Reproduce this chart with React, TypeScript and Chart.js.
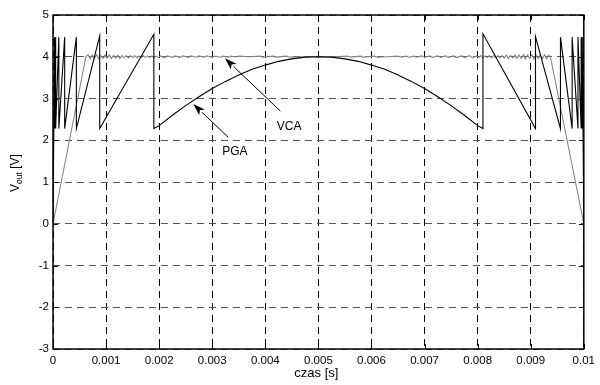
import React, { useEffect, useRef } from "react";
import { Chart, registerables } from "chart.js";

Chart.register(...registerables);

const FONT = "'Liberation Sans', Arial, Helvetica, sans-serif";

// axis ticks
const xTicks = [0, 0.001, 0.002, 0.003, 0.004, 0.005, 0.006, 0.007, 0.008, 0.009, 0.01];
const yTicks = [-3, -2, -1, 0, 1, 2, 3, 4, 5];

// PGA output (black)
const pgaTime = [
  0, 0.00003, 0.00003, 0.00005, 0.00005, 0.00011, 0.00011, 0.00022, 0.00022, 0.00044, 0.00044,
  0.00088, 0.00088, 0.0019, 0.0019,
  0.002, 0.00225, 0.0025, 0.00275, 0.003, 0.00325, 0.0035, 0.00375, 0.004, 0.00425, 0.0045, 0.00475,
  0.005, 0.00525, 0.0055, 0.00575, 0.006, 0.00625, 0.0065, 0.00675, 0.007, 0.00725, 0.0075, 0.00775, 0.008,
  0.0081, 0.0081, 0.00909, 0.00909, 0.00956, 0.00956, 0.00978, 0.00978, 0.00989, 0.00989,
  0.00995, 0.00995, 0.00997, 0.00997, 0.01,
];
const pgaValue = [
  0, 4.47, 2.28, 4.47, 2.28, 4.47, 2.28, 4.47, 2.28, 4.47, 2.28,
  4.5, 2.28, 4.54, 2.28,
  2.35, 2.6, 2.83, 3.04, 3.24, 3.41, 3.56, 3.7, 3.8, 3.89, 3.95, 3.99,
  4.0, 3.99, 3.95, 3.89, 3.8, 3.7, 3.56, 3.41, 3.24, 3.04, 2.83, 2.6, 2.35,
  2.28, 4.55, 2.28, 4.48, 2.28, 4.47, 2.28, 4.47, 2.28, 4.47,
  2.28, 4.47, 2.28, 4.47, 0,
];

// VCA output (gray), time in microseconds
const vcaTimeUs = [
  0, 620,
  660, 700, 740, 780, 820, 860, 900, 940, 980, 1020,
  1060, 1100, 1140, 1180, 1220, 1260, 1300, 1340, 1380, 1420,
  1460, 1500, 1540, 1580, 1620, 1660, 1700, 1740, 1780, 1820,
  1860, 1900, 1940, 1980, 2020,
  2100, 2150, 2250, 2300, 2400, 2450, 2550, 2600, 2700, 2750,
  2850, 2900, 3000, 3050, 3150, 3200, 3300, 3350, 3450, 3500,
  3700, 3900, 3950, 4150, 4200, 4400, 4450, 4700, 5300, 5550, 5600, 5800, 5850, 6050, 6100, 6300,
  6500, 6550, 6650, 6700, 6800, 6850, 6950, 7000, 7100, 7150,
  7250, 7300, 7400, 7450, 7550, 7600, 7700, 7750, 7850, 7900,
  7980, 8020, 8060, 8100, 8140, 8180, 8220, 8260, 8300, 8340,
  8380, 8420, 8460, 8500, 8540, 8580, 8620, 8660, 8700, 8740,
  8780, 8820, 8860, 8900, 8940, 8980, 9020, 9060, 9100, 9140,
  9180, 9220, 9260, 9300, 9340,
  9370, 10000,
];
const vcaValue = [
  0, 4.0,
  4.05, 3.95, 4.04, 3.96, 4.05, 3.95, 4.03, 3.96, 4.04, 3.97,
  4.04, 3.96, 4.03, 3.97, 4.04, 3.96, 4.03, 3.97, 4.03, 3.97,
  4.03, 3.98, 4.03, 3.97, 4.02, 3.98, 4.03, 3.98, 4.02, 3.98,
  4.02, 3.98, 4.02, 3.98, 4.02,
  3.98, 4.02, 3.985, 4.02, 3.985, 4.02, 3.985, 4.02, 3.99, 4.02,
  3.99, 4.02, 3.99, 4.015, 3.99, 4.015, 3.99, 4.015, 3.995, 4.015,
  4.0, 4.015, 3.99, 4.015, 3.99, 4.015, 3.99, 4.0, 4.0, 4.015, 3.99, 4.015, 3.99, 4.015, 3.99, 4.0,
  4.015, 3.99, 4.015, 3.99, 4.015, 3.99, 4.02, 3.99, 4.02, 3.985,
  4.02, 3.985, 4.02, 3.985, 4.02, 3.98, 4.02, 3.98, 4.025, 3.98,
  4.02, 3.98, 4.03, 3.97, 4.02, 3.98, 4.03, 3.97, 4.03, 3.98,
  4.03, 3.97, 4.03, 3.97, 4.04, 3.96, 4.03, 3.97, 4.04, 3.96,
  4.04, 3.96, 4.05, 3.95, 4.04, 3.96, 4.05, 3.95, 4.04, 3.96,
  4.05, 3.95, 4.05, 3.95, 4.04,
  4.0, 0,
];

// annotation arrows (data coordinates)
const arrowLabels = ["VCA", "PGA"];
const arrowText = [
  [0.004447, 2.317],
  [0.003427, 1.719],
];
const arrowTail = [
  [0.004283, 2.7],
  [0.003301, 2.071],
];
const arrowHead = [
  [0.00324, 3.963],
  [0.002644, 2.868],
];

const fmtX = (v: number) => {
  const r = Math.round(v * 1000) / 1000;
  return r === 0 ? "0" : String(r);
};

const decorPlugin = {
  id: "decor",
  afterDatasetsDraw(chart: any) {
    const { ctx, chartArea } = chart;
    const xs = chart.scales.x;
    const ys = chart.scales.y;
    ctx.save();
    // arrows
    ctx.strokeStyle = "#000";
    ctx.fillStyle = "#000";
    ctx.lineWidth = 1;
    for (let i = 0; i < arrowLabels.length; i++) {
      const tx = xs.getPixelForValue(arrowTail[i][0]);
      const ty = ys.getPixelForValue(arrowTail[i][1]);
      const hx = xs.getPixelForValue(arrowHead[i][0]);
      const hy = ys.getPixelForValue(arrowHead[i][1]);
      const ang = Math.atan2(hy - ty, hx - tx);
      const L = 12;
      const W = 4;
      const bx = hx - L * Math.cos(ang);
      const by = hy - L * Math.sin(ang);
      ctx.beginPath();
      ctx.moveTo(tx, ty);
      ctx.lineTo(bx, by);
      ctx.stroke();
      ctx.beginPath();
      ctx.moveTo(hx, hy);
      ctx.lineTo(bx + W * Math.sin(ang), by - W * Math.cos(ang));
      ctx.lineTo(hx - (L - 3) * Math.cos(ang), hy - (L - 3) * Math.sin(ang));
      ctx.lineTo(bx - W * Math.sin(ang), by + W * Math.cos(ang));
      ctx.closePath();
      ctx.fill();
      ctx.font = `12px ${FONT}`;
      ctx.textAlign = "center";
      ctx.textBaseline = "middle";
      ctx.fillText(
        arrowLabels[i],
        xs.getPixelForValue(arrowText[i][0]),
        ys.getPixelForValue(arrowText[i][1])
      );
    }
    // frame
    ctx.lineWidth = 1.5;
    ctx.strokeRect(chartArea.left, chartArea.top, chartArea.right - chartArea.left, chartArea.bottom - chartArea.top);
    // inward ticks
    ctx.lineWidth = 1;
    ctx.beginPath();
    for (const v of xTicks) {
      const px = Math.round(xs.getPixelForValue(v)) + 0.5;
      ctx.moveTo(px, chartArea.bottom);
      ctx.lineTo(px, chartArea.bottom - 5);
      ctx.moveTo(px, chartArea.top);
      ctx.lineTo(px, chartArea.top + 5);
    }
    for (const v of yTicks) {
      const py = Math.round(ys.getPixelForValue(v)) + 0.5;
      ctx.moveTo(chartArea.left, py);
      ctx.lineTo(chartArea.left + 5, py);
      ctx.moveTo(chartArea.right, py);
      ctx.lineTo(chartArea.right - 5, py);
    }
    ctx.stroke();
    // x title
    ctx.font = `13px ${FONT}`;
    ctx.textAlign = "center";
    ctx.textBaseline = "middle";
    ctx.fillText("czas [s]", (chartArea.left + chartArea.right) / 2 - 2, 373);
    // y title with subscript
    ctx.translate(19, 192);
    ctx.rotate(-Math.PI / 2);
    ctx.textAlign = "left";
    ctx.textBaseline = "alphabetic";
    ctx.font = `12px ${FONT}`;
    ctx.fillText("V", 0, 0);
    const wV = ctx.measureText("V").width;
    ctx.font = `8.5px ${FONT}`;
    ctx.fillText("out", wV, 3);
    const wOut = ctx.measureText("out").width;
    ctx.font = `12px ${FONT}`;
    ctx.fillText(" [V]", wV + wOut, 0);
    ctx.restore();
  },
};

export default function App() {
  const ref = useRef<HTMLCanvasElement | null>(null);
  useEffect(() => {
    if (!ref.current) return;
    const pga = pgaTime.map((t, i) => ({ x: t, y: pgaValue[i] }));
    const vca = vcaTimeUs.map((t, i) => ({ x: t / 1e6, y: vcaValue[i] }));
    const chart = new Chart(ref.current, {
      type: "line",
      data: {
        datasets: [
          { label: "PGA", data: pga, borderColor: "#000", borderWidth: 1.1, pointRadius: 0, tension: 0 },
          { label: "VCA", data: vca, borderColor: "#858585", borderWidth: 1.1, pointRadius: 0, tension: 0 },
        ],
      },
      options: {
        animation: false,
        responsive: false,
        devicePixelRatio: 1,
        layout: { padding: { top: 15, right: 13, left: 0, bottom: 0 } },
        plugins: { legend: { display: false }, tooltip: { enabled: false } },
        scales: {
          x: {
            type: "linear",
            min: 0,
            max: 0.01,
            afterBuildTicks: (s: any) => {
              s.ticks = xTicks.map((v) => ({ value: v }));
            },
            afterFit: (s: any) => {
              s.height = 36;
            },
            ticks: {
              callback: (v: any) => fmtX(Number(v)),
              font: { family: FONT, size: 11.5 },
              color: "#000",
              padding: 5,
              maxRotation: 0,
              autoSkip: false,
            },
            grid: { color: "#000", lineWidth: 1, drawTicks: false },
            border: { display: false, dash: [7, 5] },
          },
          y: {
            type: "linear",
            min: -3,
            max: 5,
            afterBuildTicks: (s: any) => {
              s.ticks = yTicks.map((v) => ({ value: v }));
            },
            afterFit: (s: any) => {
              s.width = 53;
            },
            ticks: {
              callback: (v: any) => String(v),
              font: { family: FONT, size: 11.5 },
              color: "#000",
              padding: 4,
            },
            grid: { color: "#555", lineWidth: 1, drawTicks: false },
            border: { display: false, dash: [7, 5] },
          },
        },
      },
      plugins: [decorPlugin],
    });
    return () => chart.destroy();
  }, []);
  return (
    <div style={{ position: "absolute", left: 0, top: 0, width: 600, height: 385, background: "#fff" }}>
      <canvas ref={ref} width={600} height={385} style={{ display: "block" }} />
    </div>
  );
}
